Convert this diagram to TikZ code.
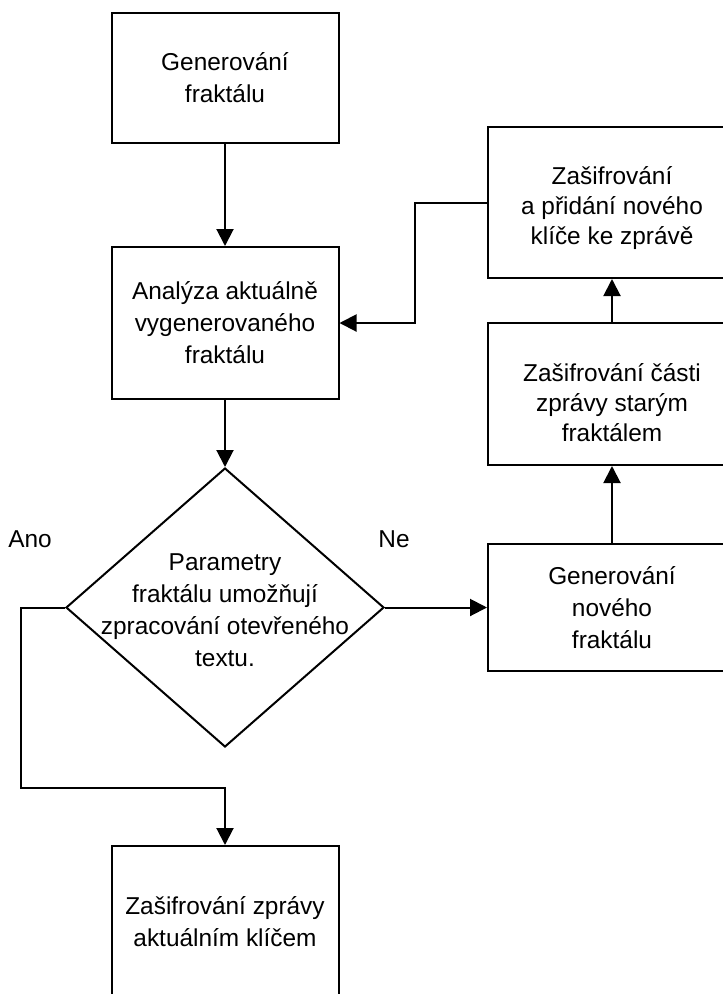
\documentclass[tikz,border=0pt]{standalone}
\usepackage{fontspec}
\setmainfont{Liberation Sans}
\usetikzlibrary{arrows.meta,shapes.geometric}

\begin{document}
\begin{tikzpicture}[x=1pt,y=-1pt,
  every node/.style={font=\fontsize{24.4}{32}\selectfont, align=center},
  tight/.style={font=\fontsize{24.4}{30}\selectfont},
  stepbox/.style={draw, line width=2pt, rectangle, inner sep=0pt},
  decision/.style={draw, line width=2pt, diamond, inner sep=0pt},
  arr/.style={line width=2pt, -{Triangle[length=17pt,width=17pt]}}
]
\clip (0,0) rectangle (723,994);

% main column
\node[stepbox, minimum width=227pt, minimum height=130pt] (gen) at (225,78)
  {Generování\\fraktálu};
\node[stepbox, minimum width=227pt, minimum height=152pt] (ana) at (225,323)
  {Analýza aktuálně\\vygenerovaného\\fraktálu};
\node[decision, minimum width=318pt, minimum height=279pt] (dec) at (225,607.5) {};
\node (dectext) at (225,610)
  {Parametry\\fraktálu umožňují\\zpracování otevřeného\\textu.};
\node[stepbox, minimum width=227pt, minimum height=152pt] (enc) at (225,922)
  {Zašifrování zprávy\\aktuálním klíčem};

% right column
\node[stepbox, minimum width=248pt, minimum height=151pt] (add) at (612,202.5) {};
\node[tight] (addtext) at (612,208)
  {Zašifrování\\a přidání nového\\klíče ke zprávě};
\node[stepbox, minimum width=248pt, minimum height=142pt] (part) at (612,394) {};
\node[tight] (parttext) at (612,403)
  {Zašifrování části\\zprávy starým\\fraktálem};
\node[stepbox, minimum width=248pt, minimum height=127pt] (newf) at (612,607.5)
  {Generování\\nového\\fraktálu};

% branch labels
\node (ano) at (30,539) {Ano};
\node (ne) at (394,539) {Ne};

% bend points
\coordinate (yesturn) at (21,788);
\coordinate (backturn) at (415,202.5);

% connectors
\draw[arr] (gen.south) -- (ana.north);
\draw[arr] (ana.south) -- (dec.north);
\draw[arr] (dec.east) -- (newf.west);
\draw[arr] (newf.north) -- (part.south);
\draw[arr] (part.north) -- (add.south);
\draw[arr] (add.west) -- (backturn) |- (ana.east);
\draw[arr] (dec.west) -| (yesturn) -| (enc.north);
\end{tikzpicture}
\end{document}
